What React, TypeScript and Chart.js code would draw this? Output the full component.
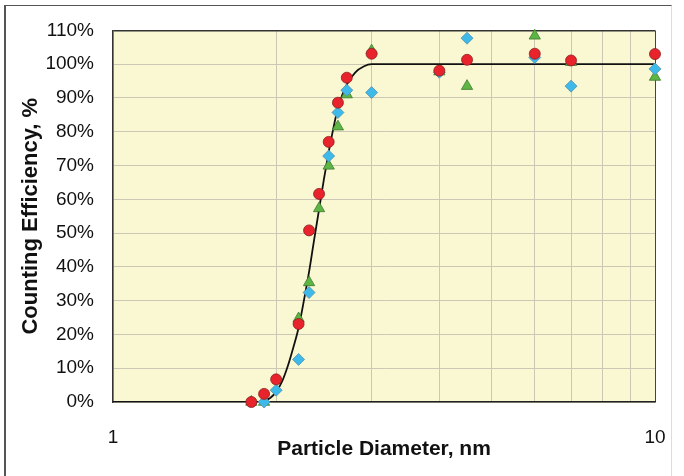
import React, { useEffect, useRef } from "react";
import { Chart, registerables } from "chart.js";

Chart.register(...registerables);

const redX = [1.8, 1.9, 2.0, 2.2, 2.3, 2.4, 2.5, 2.6, 2.7, 3.0, 4.0, 4.5, 6.0, 7.0, 10.0];
const redY = [0, 2.4, 6.7, 23.1, 50.8, 61.6, 77.0, 88.6, 96.0, 103.1, 98.1, 101.3, 103.1, 101.1, 103.0];

const blueX = [1.9, 2.0, 2.2, 2.3, 2.5, 2.6, 2.7, 3.0, 4.0, 4.5, 6.0, 7.0, 10.0];
const blueY = [0, 3.5, 12.6, 32.4, 72.8, 85.7, 92.3, 91.6, 97.6, 107.7, 102.0, 93.5, 98.6];

const greenX = [1.8, 1.9, 2.2, 2.3, 2.4, 2.5, 2.6, 2.7, 3.0, 4.0, 4.5, 6.0, 7.0, 10.0];
const greenY = [0, 0, 24.7, 35.4, 57.3, 69.9, 81.5, 91.0, 104.0, 97.8, 93.5, 108.4, 100.6, 96.2];

const curveX = [1, 1.85, 1.9, 1.95, 2.0, 2.05, 2.1, 2.15, 2.2, 2.25, 2.3, 2.35, 2.4, 2.45, 2.5, 2.55, 2.6, 2.65, 2.7, 2.8, 2.9, 3.0, 10];
const curveY = [0, 0, 0.3, 1.2, 3, 6, 10.5, 16, 22, 30, 38.5, 48, 57, 66, 74, 81, 87, 91, 94, 97.6, 99.3, 100, 100];

const xTicks = [1, 2, 3, 4, 5, 6, 7, 8, 9, 10];
const xLabels = ["1", "", "", "", "", "", "", "", "", "10"];
const yTicks = [0, 10, 20, 30, 40, 50, 60, 70, 80, 90, 100, 110];

const pts = (xs: number[], ys: number[]) => xs.map((x, i) => ({ x, y: ys[i] }));

const FONT = "'Liberation Sans', Arial, sans-serif";

export default function App() {
  const ref = useRef<HTMLCanvasElement | null>(null);

  useEffect(() => {
    document.body.style.margin = "0";
    const bgPlugin = {
      id: "plotBg",
      beforeDraw(chart: any) {
        const { ctx, chartArea: a } = chart;
        ctx.save();
        ctx.fillStyle = "#FAF8D2";
        ctx.fillRect(a.left, a.top, a.right - a.left, a.bottom - a.top);
        ctx.restore();
      },
    };
    const chart = new Chart(ref.current as HTMLCanvasElement, {
      type: "scatter",
      data: {
        datasets: [
          {
            label: "red",
            data: pts(redX, redY),
            pointStyle: "circle",
            pointRadius: 5.5,
            backgroundColor: "#E8232B",
            borderColor: "#8A2020",
            borderWidth: 0.8,
            clip: false as any,
          },
          {
            label: "blue",
            data: pts(blueX, blueY),
            pointStyle: "rectRot",
            pointRadius: 6,
            backgroundColor: "#3DB9EA",
            borderColor: "#5A8FA8",
            borderWidth: 0.8,
            clip: false as any,
          },
          {
            label: "green",
            data: pts(greenX, greenY),
            pointStyle: "triangle",
            pointRadius: 6.5,
            backgroundColor: "#5DB544",
            borderColor: "#3E7A2E",
            borderWidth: 0.8,
            clip: false as any,
          },
          {
            type: "line",
            label: "fit",
            data: pts(curveX, curveY),
            showLine: true,
            borderColor: "#111",
            borderWidth: 1.8,
            pointRadius: 0,
            tension: 0,
            cubicInterpolationMode: "monotone",
            fill: false,
          } as any,
        ],
      },
      options: {
        animation: false,
        responsive: false,
        events: [],
        layout: { padding: { left: 0, top: 28, right: 29, bottom: 0 } },
        plugins: { legend: { display: false }, tooltip: { enabled: false } },
        scales: {
          x: {
            type: "logarithmic",
            min: 1,
            max: 10,
            afterBuildTicks(scale: any) {
              scale.ticks = xTicks.map((v) => ({ value: v }));
            },
            afterFit(scale: any) {
              scale.height = 74;
              scale.paddingLeft = 0;
              scale.paddingRight = 0;
            },
            ticks: {
              autoSkip: false,
              maxRotation: 0,
              padding: 24,
              color: "#111",
              font: { family: FONT, size: 19 },
              callback: (v: any) => {
                const i = xTicks.indexOf(Number(v));
                return i >= 0 ? xLabels[i] : "";
              },
            },
            grid: {
              drawTicks: false,
              color: (c: any) => (c.tick && c.tick.value === 10 ? "#444" : "#CBC9B6"),
              lineWidth: 1,
            },
            border: { color: "#222", width: 1.5 },
            title: {
              display: true,
              text: "Particle Diameter, nm",
              color: "#111",
              font: { family: FONT, size: 21, weight: "bold" },
              padding: { top: 0, bottom: 14 },
            },
          },
          y: {
            min: 0,
            max: 110,
            afterBuildTicks(scale: any) {
              scale.ticks = yTicks.map((v) => ({ value: v }));
            },
            afterFit(scale: any) {
              scale.width = 113;
            },
            ticks: {
              padding: 19,
              color: "#111",
              font: { family: FONT, size: 19 },
              callback: (v: any) => v + "%",
            },
            grid: {
              drawTicks: false,
              color: (c: any) => (c.tick && c.tick.value === 110 ? "#333" : "#CBC9B6"),
              lineWidth: (c: any) => (c.tick && c.tick.value === 110 ? 1.5 : 1),
            },
            border: { color: "#333", width: 1.5 },
            title: {
              display: true,
              text: "Counting Efficiency, %",
              color: "#111",
              font: { family: FONT, size: 22, weight: "bold" },
              padding: { top: 18, bottom: 0 },
            },
          },
        },
      },
      plugins: [bgPlugin],
    } as any);
    return () => chart.destroy();
  }, []);

  return (
    <div style={{ position: "relative", width: 684, height: 476, background: "#fff", overflow: "hidden" }}>
      <div
        style={{
          position: "absolute",
          left: 4,
          top: 5,
          width: 668,
          height: 480,
          borderLeft: "2px solid #555",
          borderTop: "1.5px solid #555",
          borderRight: "1px solid #DDD",
          boxSizing: "border-box",
        }}
      />
      <canvas ref={ref} width={684} height={476} style={{ position: "absolute", left: 0, top: 0, width: 684, height: 476 }} />
    </div>
  );
}
